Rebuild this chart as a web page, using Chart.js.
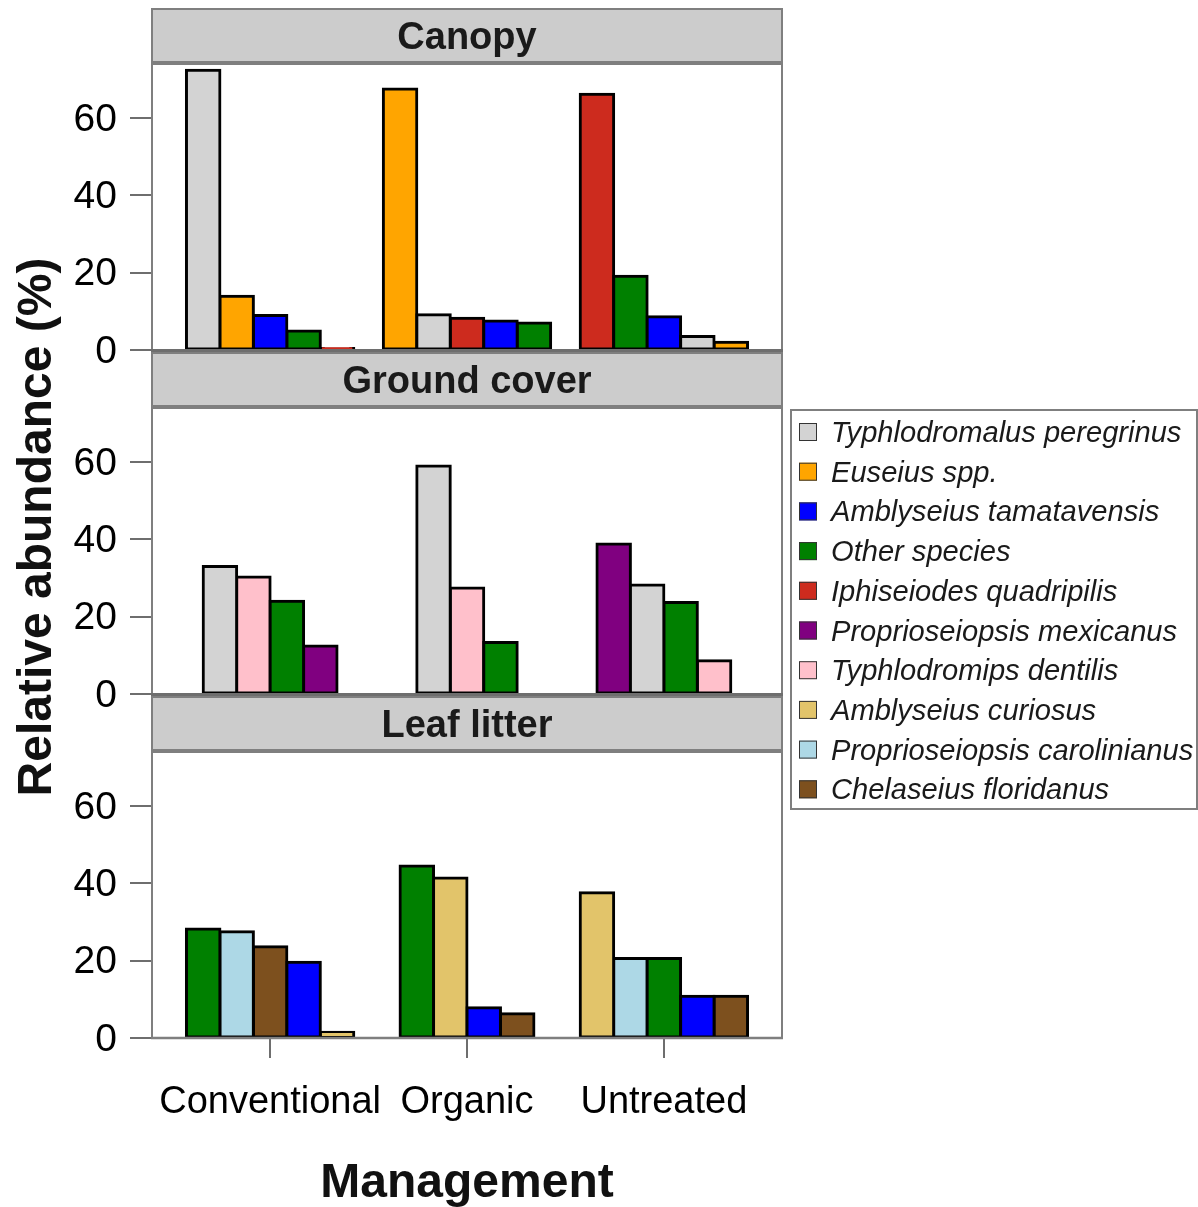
<!DOCTYPE html>
<html lang="en">
<head>
<meta charset="UTF-8" />
<title>Phytoseiid mites by management and habitat</title>
<script src="https://cdn.jsdelivr.net/npm/chart.js"></script>
<style>
  body { margin: 0; background: #fff; }
  #wrap { position: relative; width: 1198px; height: 1207px; }
  #wrap canvas { position: absolute; left: 0; top: 0; }
</style>
</head>
<body>
<div id="wrap">
  <canvas id="canopy" width="1198" height="1207"></canvas>
  <canvas id="ground" width="1198" height="1207"></canvas>
  <canvas id="litter" width="1198" height="1207"></canvas>
</div>
<script>
const managements = ['Conventional', 'Organic', 'Untreated'];
const habitats = ['Canopy', 'Ground cover', 'Leaf litter'];
const yTicks = [0, 20, 40, 60];

const speciesNames = [
  'Typhlodromalus peregrinus', 'Euseius spp.', 'Amblyseius tamatavensis', 'Other species',
  'Iphiseiodes quadripilis', 'Proprioseiopsis mexicanus', 'Typhlodromips dentilis',
  'Amblyseius curiosus', 'Proprioseiopsis carolinianus', 'Chelaseius floridanus'
];
const speciesColors = [
  '#D3D3D3', '#FFA500', '#0000FF', '#008000', '#CD2B1E',
  '#800080', '#FFC0CB', '#E2C46A', '#ADD8E6', '#7D501E'
];

// bars of each management group, in the order they are drawn
const canopySpecies = [
  ['Typhlodromalus peregrinus', 'Euseius spp.', 'Amblyseius tamatavensis', 'Other species', 'Iphiseiodes quadripilis'],
  ['Euseius spp.', 'Typhlodromalus peregrinus', 'Iphiseiodes quadripilis', 'Amblyseius tamatavensis', 'Other species'],
  ['Iphiseiodes quadripilis', 'Other species', 'Amblyseius tamatavensis', 'Typhlodromalus peregrinus', 'Euseius spp.']
];
const canopyValues = [
  [72.4, 13.9, 8.9, 4.9, 0.4],
  [67.5, 9.1, 8.2, 7.5, 7.0],
  [66.2, 19.1, 8.6, 3.5, 2.0]
];

const groundSpecies = [
  ['Typhlodromalus peregrinus', 'Typhlodromips dentilis', 'Other species', 'Proprioseiopsis mexicanus'],
  ['Typhlodromalus peregrinus', 'Typhlodromips dentilis', 'Other species'],
  ['Proprioseiopsis mexicanus', 'Typhlodromalus peregrinus', 'Other species', 'Typhlodromips dentilis']
];
const groundValues = [
  [33.0, 30.3, 24.0, 12.4],
  [59.0, 27.4, 13.3],
  [38.8, 28.2, 23.7, 8.6]
];

const litterSpecies = [
  ['Other species', 'Proprioseiopsis carolinianus', 'Chelaseius floridanus', 'Amblyseius tamatavensis', 'Amblyseius curiosus'],
  ['Other species', 'Amblyseius curiosus', 'Amblyseius tamatavensis', 'Chelaseius floridanus'],
  ['Amblyseius curiosus', 'Proprioseiopsis carolinianus', 'Other species', 'Amblyseius tamatavensis', 'Chelaseius floridanus']
];
const litterValues = [
  [28.2, 27.5, 23.6, 19.6, 1.5],
  [44.5, 41.4, 7.8, 6.3],
  [37.6, 20.6, 20.6, 10.8, 10.8]
];

const W = 1198, H = 1207;
const FONT = "'Liberation Sans', Arial, sans-serif";
const slot = 0.17;          // width of one dodged bar, in x-axis units
const plotLeft = 152, plotRight = 782;
const panelStep = 344, panelHeight = 286, firstTop = 64;

// one dataset per species, bars centred on their management group
function buildDatasets(groupSpecies, groupValues) {
  return speciesNames.map((name, s) => {
    const points = [];
    groupSpecies.forEach((list, g) => {
      const k = list.indexOf(name);
      if (k < 0) return;
      points.push({ x: g + 1 + (k - (list.length - 1) / 2) * slot, y: groupValues[g][k] });
    });
    return {
      label: name,
      data: points,
      backgroundColor: speciesColors[s],
      borderColor: '#000',
      borderWidth: 3,
      borderSkipped: false,
      inflateAmount: 1.5,
      grouped: false,
      barPercentage: 1,
      categoryPercentage: 1
    };
  }).filter(d => d.data.length);
}

const panelDecor = {
  id: 'panelDecor',
  afterDatasetsDraw(chart, args, opts) {
    const { ctx, chartArea: a } = chart;
    ctx.save();
    // strip
    const sTop = a.top - 55, sBot = a.top - 2;
    ctx.fillStyle = '#CCCCCC';
    ctx.fillRect(a.left, sTop, a.right - a.left, sBot - sTop);
    ctx.strokeStyle = '#7F7F7F';
    ctx.lineWidth = 2;
    ctx.strokeRect(a.left, sTop, a.right - a.left, sBot - sTop);
    ctx.fillStyle = '#1A1A1A';
    ctx.font = 'bold 38px ' + FONT;
    ctx.textAlign = 'center';
    ctx.textBaseline = 'middle';
    ctx.fillText(opts.title, (a.left + a.right) / 2, (sTop + sBot) / 2 + 3);
    // panel border
    ctx.strokeRect(a.left, a.top, a.right - a.left, a.bottom - a.top);
    ctx.beginPath();
    ctx.lineWidth = opts.last ? 2.5 : 3.5;
    ctx.strokeStyle = opts.last ? '#7F7F7F' : '#6E6E6E';
    ctx.moveTo(a.left - 1, a.bottom + (opts.last ? 0 : 0.75));
    ctx.lineTo(a.right + 1, a.bottom + (opts.last ? 0 : 0.75));
    ctx.stroke();
    ctx.restore();
  }
};

const figureDecor = {
  id: 'figureDecor',
  afterDraw(chart) {
    const { ctx } = chart;
    ctx.save();
    // y-axis title shared by the three panels
    ctx.translate(51, 527);
    ctx.rotate(-Math.PI / 2);
    ctx.fillStyle = '#111';
    ctx.font = 'bold 48px ' + FONT;
    ctx.textAlign = 'center';
    ctx.textBaseline = 'alphabetic';
    ctx.fillText('Relative abundance (%)', 0, 0);
    ctx.restore();

    // legend
    ctx.save();
    ctx.fillStyle = '#fff';
    ctx.fillRect(791, 410, 406, 399);
    ctx.strokeStyle = '#7F7F7F';
    ctx.lineWidth = 2;
    ctx.strokeRect(791, 410, 406, 399);
    ctx.font = 'italic 29.1px ' + FONT;
    ctx.textAlign = 'left';
    ctx.textBaseline = 'middle';
    speciesNames.forEach((name, i) => {
      const yc = 432 + i * 39.7;
      ctx.fillStyle = speciesColors[i];
      ctx.fillRect(799, yc - 9, 18, 18);
      ctx.strokeStyle = '#333';
      ctx.lineWidth = 1;
      ctx.strokeRect(799.5, yc - 8.5, 17, 17);
      ctx.fillStyle = '#1A1A1A';
      ctx.fillText(name, 831, yc + 2);
    });
    ctx.restore();
  }
};

function makePanel(canvasId, idx, groupSpecies, groupValues) {
  const top = firstTop + idx * panelStep;
  const bottom = top + panelHeight;
  const last = idx === habitats.length - 1;
  const xScale = {
    type: 'linear',
    min: 0.4,
    max: 3.6,
    offset: false,
    display: last,
    afterBuildTicks: s => { s.ticks = managements.map((m, i) => ({ value: i + 1 })); },
    ticks: {
      callback: v => managements[v - 1],
      font: { family: FONT, size: 38 },
      color: '#000',
      padding: 22,
      maxRotation: 0,
      autoSkip: false
    },
    grid: { drawOnChartArea: false, drawTicks: true, tickLength: 20, color: '#6E6E6E', lineWidth: 2, offset: false },
    border: { display: false },
    title: {
      display: true,
      text: 'Management',
      font: { family: FONT, size: 48, weight: 'bold', lineHeight: 1 },
      color: '#111',
      padding: { top: 0, bottom: 1 }
    }
  };
  if (last) xScale.afterFit = s => { s.height = H - bottom + 2; };

  return new Chart(document.getElementById(canvasId), {
    type: 'bar',
    data: { datasets: buildDatasets(groupSpecies, groupValues) },
    options: {
      responsive: false,
      animation: false,
      devicePixelRatio: 1,
      layout: { padding: { top: top, bottom: last ? -2 : H - bottom, left: 0, right: W - plotRight } },
      plugins: {
        legend: { display: false },
        tooltip: { enabled: false },
        panelDecor: { title: habitats[idx], last: last }
      },
      scales: {
        x: xScale,
        y: {
          min: 0,
          max: 74,
          afterBuildTicks: s => { s.ticks = yTicks.map(v => ({ value: v })); },
          afterFit: s => { s.width = plotLeft; },
          ticks: { font: { family: FONT, size: 39 }, color: '#000', padding: 13, labelOffset: 2 },
          grid: { drawOnChartArea: false, drawTicks: true, tickLength: 22, color: '#6E6E6E', lineWidth: 2 },
          border: { display: false }
        }
      }
    },
    plugins: idx === 1 ? [panelDecor, figureDecor] : [panelDecor]
  });
}

makePanel('canopy', 0, canopySpecies, canopyValues);
makePanel('ground', 1, groundSpecies, groundValues);
makePanel('litter', 2, litterSpecies, litterValues);
</script>
</body>
</html>
